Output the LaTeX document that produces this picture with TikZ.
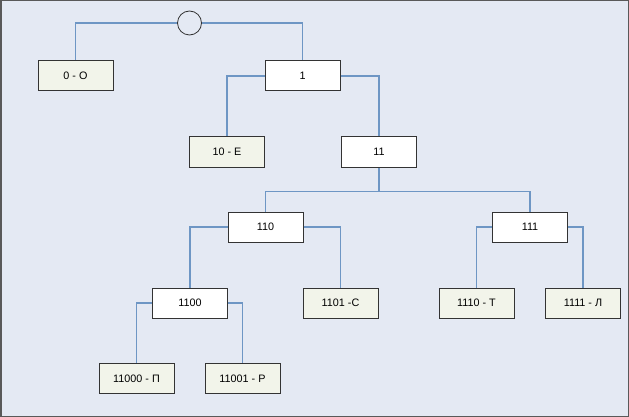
\documentclass[tikz,border=0pt]{standalone}
\usepackage{fontspec}
\setmainfont{Liberation Sans}
\usetikzlibrary{calc}
\definecolor{bgblue}{RGB}{228,233,243}
\definecolor{leafgreen}{RGB}{242,244,234}
\definecolor{linkblue}{RGB}{110,150,196}
\tikzset{
	box/.style={draw=black!80, line width=1pt, minimum width=75pt, minimum height=30pt, inner sep=0pt, font=\fontsize{10.8}{13}\selectfont},
	inner/.style={box, fill=white},
	leaf/.style={box, fill=leafgreen},
	link/.style={draw=linkblue, line width=1.3pt},
}
\begin{document}
\begin{tikzpicture}[x=1pt,y=-1pt]
		\draw[fill=bgblue, draw=black!65, line width=1.5pt] (0.75,0.75) rectangle (628.25,416.25);
		\useasboundingbox (0,0) rectangle (629,417);
		\node[circle, draw=black!80, line width=0.8pt, fill=bgblue, minimum size=24pt, inner sep=0pt] at (189.5,23) (root) {};
		\node[leaf] at (75.5,76) (o) {0 - О};
		\node[inner] at (302.5,76) (n1) {1};
		\node[leaf] at (227,152) (e) {10 - Е};
		\node[inner] at (379,152) (n11) {11};
		\node[inner] at (265.5,227) (n110) {110};
		\node[inner] at (530,227) (n111) {111};
		\node[inner] at (190,303) (n1100) {1100};
		\node[leaf] at (340.5,303) (s) {1101 -С};
		\node[leaf] at (476.5,303) (t) {1110 - Т};
		\node[leaf] at (583,303) (l) {1111 - Л};
		\node[leaf] at (136.5,378.5) (p) {11000 - П};
		\node[leaf] at (242.5,378.5) (r) {11001 - Р};
		\draw[link] (root.west) -| (o.north);
		\draw[link] (root.east) -| (n1.north);
		\draw[link] (n11.south) -- ++(0,24) coordinate (fork);
		\draw[link] (fork) -| (n110.north);
		\draw[link] (fork) -| (n111.north);
		\foreach \a/\b/\c in {n1/e/n11, n110/n1100/s, n111/t/l, n1100/p/r}{
		\draw[link] (\a.west) -| (\b.north);
		\draw[link] (\a.east) -| (\c.north);
		}
		\end{tikzpicture}
\end{document}
